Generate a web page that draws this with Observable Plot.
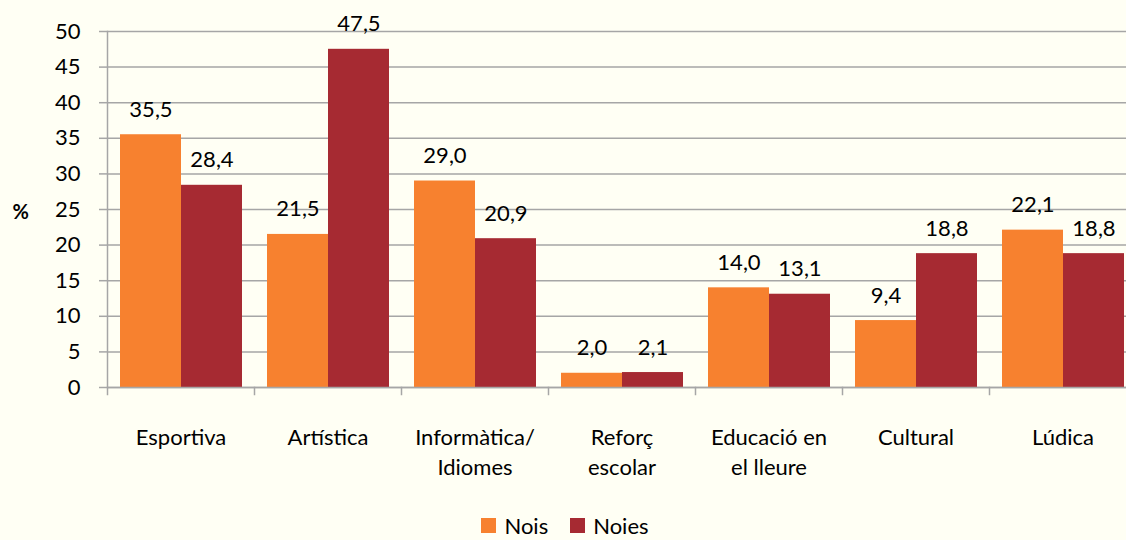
<!DOCTYPE html>
<html><head><meta charset="utf-8">
<script src="https://cdn.jsdelivr.net/npm/d3@7"></script>
<script src="https://cdn.jsdelivr.net/npm/@observablehq/plot@0.6"></script>
<style>
html,body{margin:0;padding:0;background:#fffff4;overflow:hidden;width:1126px;height:540px}
#chart svg{display:block;overflow:hidden}
.legend{display:flex;justify-content:center;align-items:center;height:30px;font-family:Lato,sans-serif;font-size:22px;color:#000;margin-left:4px}
.legend .item{display:flex;align-items:center;margin:0 11px}
.legend .sw{width:15px;height:15px;margin-right:8px}
</style></head><body>
<div id="chart"></div>
<div id="legend" class="legend"></div>
<script>
const categories = ["Esportiva","Artística","Informàtica/Idiomes","Reforç escolar","Educació en el lleure","Cultural","Lúdica"];
const tickLabels = ["Esportiva","Artística","Informàtica/\nIdiomes","Reforç\nescolar","Educació en\nel lleure","Cultural","Lúdica"];
const series = ["Nois","Noies"];
const nois  = [35.5, 21.5, 29.0, 2.0, 14.0, 9.4, 22.1];
const noies = [28.4, 47.5, 20.9, 2.1, 13.1, 18.8, 18.8];
const colors = ["#F7812F","#A62A32"];
const yTicks = [0,5,10,15,20,25,30,35,40,45,50];

const data = categories.flatMap((c,i)=>[
  {cat:c, series:"Nois", value:nois[i]},
  {cat:c, series:"Noies", value:noies[i]}
]);
const FONT = "Lato, sans-serif";
const GRID = "#a6a6a6";

const chart = Plot.plot({
  width:1126, height:510,
  marginTop:31, marginBottom:123, marginLeft:107, marginRight:-10,
  style:{background:"#fffff4", fontFamily:FONT, color:"#000", overflow:"hidden"},
  fx:{domain:categories, padding:0, label:null},
  x:{domain:series, paddingInner:0, paddingOuter:0.2, axis:null},
  y:{domain:[0,50]},
  color:{domain:series, range:colors},
  marks:[
    Plot.gridY(yTicks,{stroke:GRID, strokeOpacity:1, strokeWidth:1.5}),
    Plot.barY(data,{fx:"cat", x:"series", y:"value", fill:"series"}),
    Plot.ruleY([0],{stroke:GRID, strokeWidth:1.5}),
    Plot.frame({anchor:"left", facetAnchor:"left", stroke:GRID, strokeWidth:1.5}),
    Plot.frame({anchor:"left", insetTop:356, insetBottom:-7, stroke:GRID, strokeWidth:1.5}),
    Plot.axisY(yTicks,{tickSize:8, tickPadding:19, fontSize:22, stroke:GRID, strokeWidth:1.5, fill:"#000", label:null}),
    Plot.axisFx({anchor:"bottom", tickSize:0, tickPadding:36, fontSize:22, lineHeight:1.36, label:null, fill:"#000",
      tickFormat: c => tickLabels[categories.indexOf(c)]}),
    Plot.text(data,{fx:"cat", x:"series", y:"value", text:d=>d.value.toFixed(1).replace(".",","), dy:-25, fontSize:22, fill:"#000"}),
    Plot.text(["%"],{frameAnchor:"left", dx:-95, dy:3, fontWeight:"bold", fontSize:20, fill:"#000", facetAnchor:"left"})
  ]
});
document.getElementById("chart").appendChild(chart);

const lg = document.getElementById("legend");
series.forEach((s,i)=>{
  const it = document.createElement("div"); it.className="item";
  const sw = document.createElement("span"); sw.className="sw"; sw.style.background = colors[i];
  const tx = document.createElement("span"); tx.textContent = s;
  it.appendChild(sw); it.appendChild(tx); lg.appendChild(it);
});
</script>
</body></html>
